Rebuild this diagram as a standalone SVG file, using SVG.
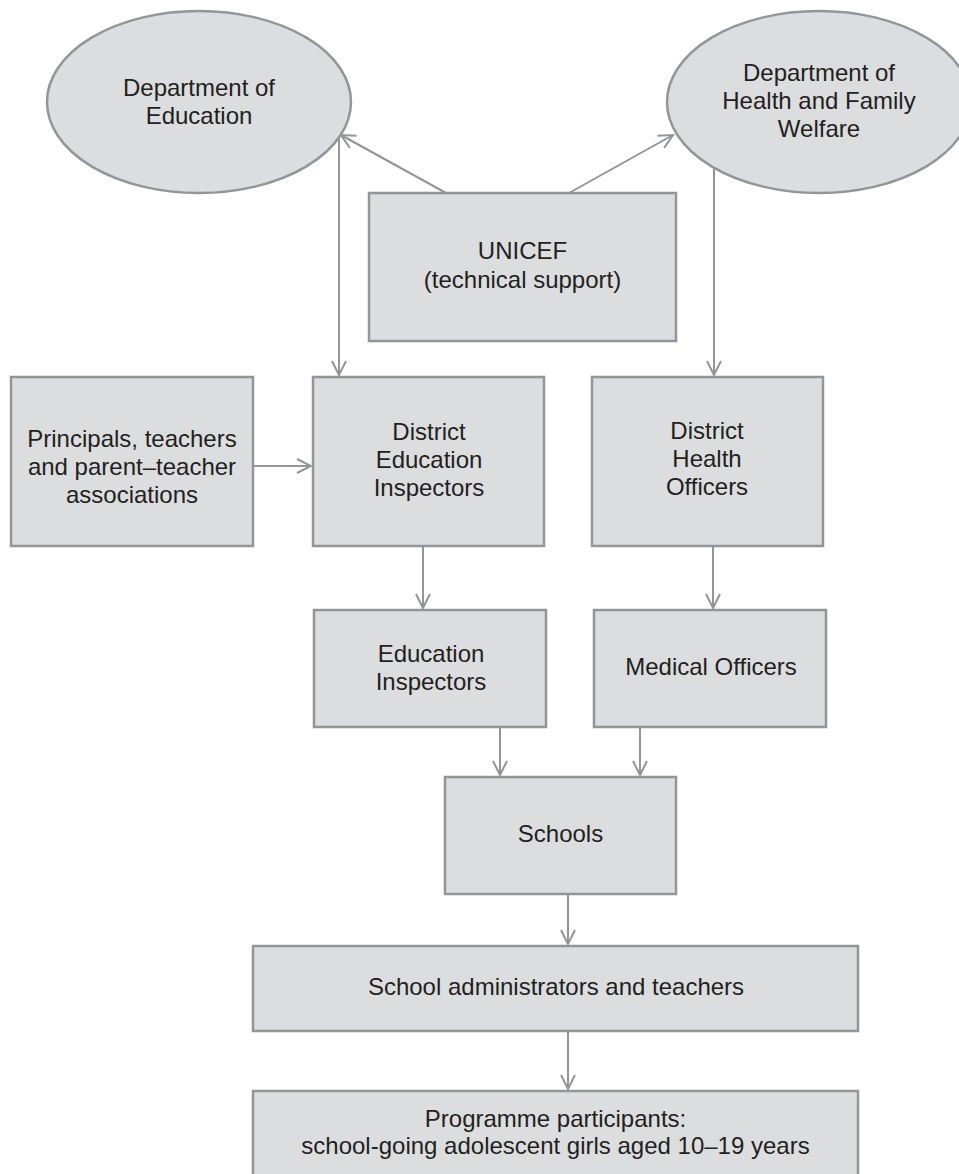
<svg xmlns="http://www.w3.org/2000/svg" width="959" height="1174" viewBox="0 0 959 1174">
<style>
.n{fill:#dcdddf;stroke:#939598;stroke-width:2.5}
.t{font-family:"Liberation Sans",Arial,sans-serif;font-size:24px;fill:#231f20;text-anchor:middle}
.c{stroke:#939598;stroke-width:2;fill:none;marker-end:url(#ah)}
</style>
<defs>
<marker id="ah" markerUnits="userSpaceOnUse" viewBox="-17 -10 19 20" refX="0" refY="0" markerWidth="19" markerHeight="20" orient="auto">
<path d="M-14,-7 L0,0 L-14,7" fill="none" stroke="#939598" stroke-width="2"/>
</marker>
</defs>
<rect width="959" height="1174" fill="#ffffff"/>
<g id="connectors">
<line class="c" x1="446" y1="193" x2="341" y2="135"/>
<line class="c" x1="569" y1="193" x2="673" y2="135"/>
<line class="c" x1="339" y1="137" x2="339" y2="375"/>
<line class="c" x1="714" y1="169" x2="714" y2="375"/>
<line class="c" x1="253" y1="466" x2="311" y2="466"/>
<line class="c" x1="423" y1="546" x2="423" y2="608"/>
<line class="c" x1="713" y1="546" x2="713" y2="608"/>
<line class="c" x1="500" y1="727" x2="500" y2="775"/>
<line class="c" x1="640" y1="727" x2="640" y2="775"/>
<line class="c" x1="568" y1="894" x2="568" y2="944"/>
<line class="c" x1="568" y1="1032" x2="568" y2="1089"/>
</g>
<g id="dept-education">
<ellipse class="n" cx="199" cy="102" rx="152" ry="91"/>
<text class="t" x="199" y="96">Department of</text>
<text class="t" x="199" y="124">Education</text>
</g>
<g id="dept-health">
<ellipse class="n" cx="819" cy="102" rx="152" ry="91"/>
<text class="t" x="819" y="81">Department of</text>
<text class="t" x="819" y="109">Health and Family</text>
<text class="t" x="819" y="137">Welfare</text>
</g>
<g id="unicef">
<rect class="n" x="369" y="193" width="307" height="148"/>
<text class="t" x="522.5" y="259">UNICEF</text>
<text class="t" x="522.5" y="288">(technical support)</text>
</g>
<g id="principals">
<rect class="n" x="11" y="377" width="242" height="169"/>
<text class="t" x="132" y="447">Principals, teachers</text>
<text class="t" x="132" y="475">and parent–teacher</text>
<text class="t" x="132" y="503">associations</text>
</g>
<g id="district-education">
<rect class="n" x="313" y="377" width="231" height="169"/>
<text class="t" x="429" y="440">District</text>
<text class="t" x="429" y="468">Education</text>
<text class="t" x="429" y="496">Inspectors</text>
</g>
<g id="district-health">
<rect class="n" x="592" y="377" width="231" height="169"/>
<text class="t" x="707" y="439">District</text>
<text class="t" x="707" y="467">Health</text>
<text class="t" x="707" y="495">Officers</text>
</g>
<g id="education-inspectors">
<rect class="n" x="314" y="610" width="232" height="117"/>
<text class="t" x="431" y="662">Education</text>
<text class="t" x="431" y="690">Inspectors</text>
</g>
<g id="medical-officers">
<rect class="n" x="594" y="610" width="232" height="117"/>
<text class="t" x="711" y="675">Medical Officers</text>
</g>
<g id="schools">
<rect class="n" x="445" y="777" width="231" height="117"/>
<text class="t" x="560.5" y="842">Schools</text>
</g>
<g id="school-admin">
<rect class="n" x="253" y="946" width="605" height="85"/>
<text class="t" x="556" y="995">School administrators and teachers</text>
</g>
<g id="participants">
<rect class="n" x="253" y="1091" width="605" height="100"/>
<text class="t" x="555.5" y="1127">Programme participants:</text>
<text class="t" x="555.5" y="1154">school-going adolescent girls aged 10–19 years</text>
</g>
</svg>
